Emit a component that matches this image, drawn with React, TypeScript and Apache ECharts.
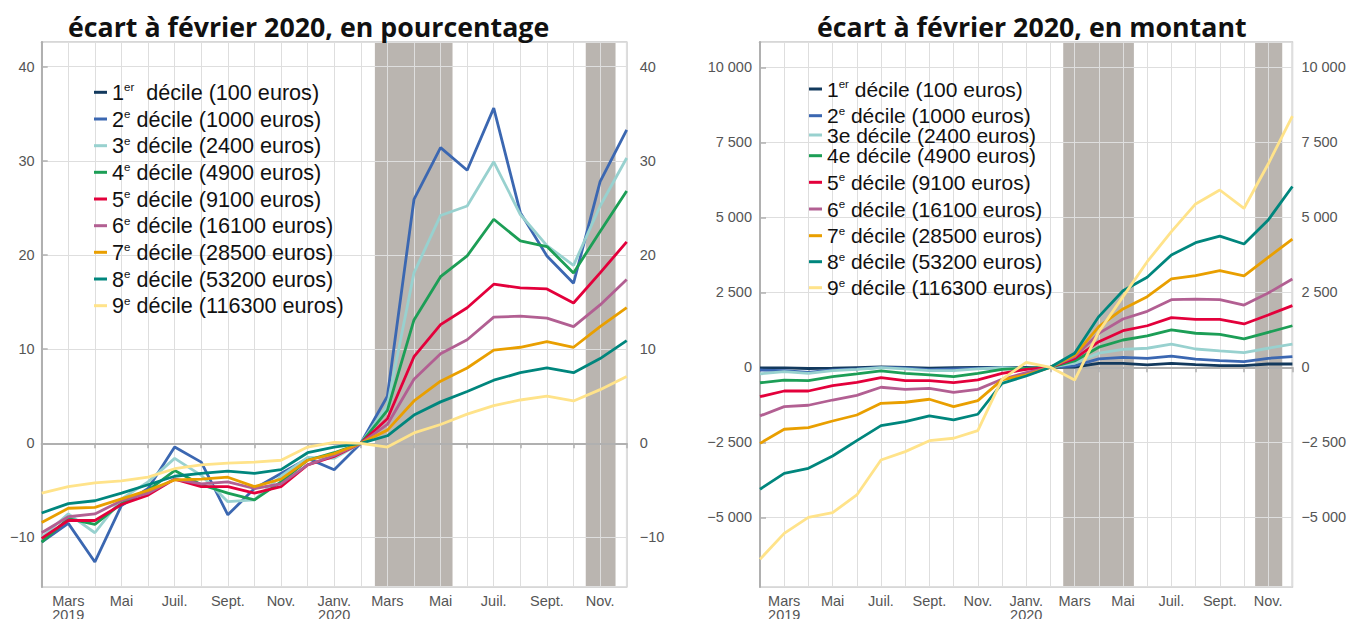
import React, { useEffect, useRef } from 'react';
import * as echarts from 'echarts';

// Month index 0 = février 2019 ... 22 = décembre 2020
const tickLabels = ['', 'Mars\n2019', '', 'Mai', '', 'Juil.', '', 'Sept.', '', 'Nov.', '', 'Janv.\n2020', '', 'Mars', '', 'Mai', '', 'Juil.', '', 'Sept.', '', 'Nov.', ''];

// Confinements (month-index positions)
const lockdowns: [number, number][] = [[12.53, 15.45], [20.46, 21.58]];

// Écart à février 2020, en pourcentage
const pct1: number[] = [];
const pct2 = [-10.5, -8.5, -12.6, -6.6, -4.8, -0.4, -2.0, -7.6, -4.8, -3.2, -1.6, -2.8, 0, 5.0, 25.9, 31.4, 29.0, 35.6, 24.5, 19.9, 17.0, 27.8, 33.3];
const pct3 = [-10.0, -7.5, -9.5, -5.9, -4.1, -1.6, -3.4, -6.2, -6.0, -3.5, -1.5, -1.6, 0, 4.0, 18.1, 24.2, 25.2, 29.9, 24.3, 21.0, 18.9, 25.2, 30.3];
const pct4 = [-10.5, -8.0, -8.6, -6.4, -5.0, -2.9, -4.4, -5.3, -6.0, -4.1, -1.8, -1.0, 0, 3.5, 13.1, 17.7, 19.9, 23.8, 21.5, 20.9, 18.1, 22.5, 26.8];
const pct5 = [-10.1, -8.2, -8.2, -6.5, -5.5, -3.8, -4.6, -4.6, -5.3, -4.6, -2.3, -1.4, 0, 2.6, 9.2, 12.6, 14.4, 16.9, 16.5, 16.4, 14.9, 18.1, 21.4];
const pct6 = [-9.5, -7.8, -7.5, -6.1, -5.3, -3.8, -4.3, -4.1, -4.8, -4.3, -2.3, -1.3, 0, 2.0, 6.8, 9.5, 11.0, 13.4, 13.5, 13.3, 12.4, 14.7, 17.4];
const pct7 = [-8.4, -6.9, -6.8, -5.9, -5.0, -3.9, -3.8, -3.6, -4.6, -3.8, -1.8, -1.1, 0, 1.4, 4.5, 6.6, 8.0, 9.9, 10.2, 10.8, 10.2, 12.4, 14.4];
const pct8 = [-7.4, -6.4, -6.1, -5.3, -4.4, -3.5, -3.2, -2.95, -3.2, -2.8, -1.0, -0.4, 0, 0.8, 3.0, 4.4, 5.5, 6.7, 7.5, 8.0, 7.5, 9.0, 10.9];
const pct9 = [-5.3, -4.6, -4.2, -4.0, -3.6, -2.7, -2.3, -2.1, -2.0, -1.8, -0.4, 0.1, 0, -0.4, 1.1, 2.0, 3.1, 4.0, 4.6, 5.0, 4.5, 5.7, 7.1];

// Écart à février 2020, en montant (euros)
const amt1 = [-20, -20, -40, -30, -10, 10, 0, -30, -10, 0, 0, 0, 0, 10, 130, 130, 80, 130, 90, 55, 55, 110, 110];
const amt2 = [-90, -110, -170, -85, -50, -5, -20, -80, -50, -30, -15, -30, 0, 50, 280, 330, 300, 375, 270, 220, 190, 300, 355];
const amt3 = [-220, -145, -200, -110, -70, -10, -55, -110, -110, -55, -10, -35, 0, 140, 470, 600, 635, 775, 610, 545, 490, 635, 775];
const amt4 = [-515, -430, -445, -310, -220, -120, -200, -255, -310, -200, -70, -35, 0, 210, 670, 910, 1045, 1245, 1135, 1100, 945, 1165, 1385];
const amt5 = [-980, -790, -790, -610, -500, -345, -445, -445, -510, -420, -200, -70, 0, 290, 855, 1220, 1385, 1655, 1600, 1600, 1445, 1745, 2055];
const amt6 = [-1620, -1310, -1265, -1090, -935, -665, -735, -700, -835, -735, -400, -175, 0, 350, 1130, 1610, 1865, 2255, 2275, 2255, 2075, 2475, 2945];
const amt7 = [-2535, -2065, -2010, -1790, -1590, -1200, -1165, -1065, -1310, -1110, -420, -250, 0, 400, 1355, 1945, 2355, 2945, 3055, 3220, 3045, 3665, 4275];
const amt8 = [-4065, -3535, -3365, -2955, -2445, -1945, -1810, -1620, -1755, -1565, -535, -290, 0, 470, 1690, 2550, 3000, 3745, 4155, 4375, 4110, 4910, 6025];
const amt9 = [-6400, -5535, -5000, -4845, -4255, -3090, -2810, -2445, -2365, -2110, -400, 165, 0, -425, 1185, 2355, 3520, 4520, 5445, 5910, 5300, 6775, 8375];

const pctSeries = [pct1, pct2, pct3, pct4, pct5, pct6, pct7, pct8, pct9];
const amtSeries = [amt1, amt2, amt3, amt4, amt5, amt6, amt7, amt8, amt9];

const colors = ['#12395d', '#3b67b1', '#98d1cf', '#1c9e56', '#e3003b', '#b25f92', '#e99f00', '#00867d', '#ffe38a'];

const legendLeft = [
  '1{sup|er}  décile (100 euros)',
  '2{sup|e} décile (1000 euros)',
  '3{sup|e} décile (2400 euros)',
  '4{sup|e} décile (4900 euros)',
  '5{sup|e} décile (9100 euros)',
  '6{sup|e} décile (16100 euros)',
  '7{sup|e} décile (28500 euros)',
  '8{sup|e} décile (53200 euros)',
  '9{sup|e} décile (116300 euros)',
];
const legendRight = [
  '1{sup|er} décile (100 euros)',
  '2{sup|e} décile (1000 euros)',
  '3e décile (2400 euros)',
  '4e décile (4900 euros)',
  '5{sup|e} décile (9100 euros)',
  '6{sup|e} décile (16100 euros)',
  '7{sup|e} décile (28500 euros)',
  '8{sup|e} décile (53200 euros)',
  '9{sup|e} décile (116300 euros)',
];

const titles = ['écart à février 2020, en pourcentage', 'écart à février 2020, en montant'];

const SANS = 'Liberation Sans, Arial, sans-serif';
const GRID_COLOR = '#dedede';
const AXIS_COLOR = '#b0b0b0';
const LABEL_COLOR = '#555';

const fmtPct = (v: number) => {
  if (Math.abs(v % 10) > 1e-6) return '';
  return v < 0 ? '\u2212' + Math.abs(v) : String(v);
};
const fmtAmt = (v: number) => {
  if (Math.abs(v % 2500) > 1e-6) return '';
  const s = String(Math.abs(v)).replace(/\B(?=(\d{3})+(?!\d))/g, ' ');
  return v < 0 ? '\u2212' + s : s;
};

export default function App() {
  const ref = useRef<HTMLDivElement>(null);
  useEffect(() => {
    if (!ref.current) return;
    const chart = echarts.init(ref.current, undefined, { renderer: 'svg' });

    const grids = [
      { left: 41.7, top: 42.3, width: 585, height: 544.4 },
      { left: 760, top: 42.3, width: 532.4, height: 544.4 },
    ];
    const yRanges = [
      { min: -15.23, max: 42.59, step: 10, fmt: fmtPct, lm: 7, rm: 13 },
      { min: -7313, max: 10833, step: 2500, fmt: fmtAmt, lm: 8, rm: 9 },
    ];

    const xAxis: any[] = [];
    const yAxis: any[] = [];
    grids.forEach((_, g) => {
      xAxis.push({
        type: 'value', gridIndex: g, min: 0, max: 22, interval: 1, position: 'bottom',
        axisLine: { show: true, lineStyle: { color: AXIS_COLOR, width: 2 } },
        axisTick: { show: false },
        splitLine: { show: true, lineStyle: { color: GRID_COLOR, width: 1 } },
        axisLabel: {
          show: true, fontSize: 14.5, fontFamily: SANS, color: LABEL_COLOR, lineHeight: 14.5, margin: 7,
          formatter: (v: number) => tickLabels[Math.round(v)] || '',
        },
      });
    });
    grids.forEach((_, g) => {
      xAxis.push({
        type: 'value', gridIndex: g, min: 0, max: 22, interval: 2, position: 'bottom',
        axisLine: { show: false },
        axisTick: { show: true, length: 5, lineStyle: { color: AXIS_COLOR, width: 1.5 } },
        splitLine: { show: false },
        axisLabel: { show: false },
      });
    });
    grids.forEach((_, g) => {
      const r = yRanges[g];
      yAxis.push({
        type: 'value', gridIndex: g, position: 'left', min: r.min, max: r.max,
        minInterval: r.step, maxInterval: r.step,
        axisLine: { show: true, lineStyle: { color: AXIS_COLOR, width: 2 } },
        axisTick: { show: false },
        splitLine: { show: true, lineStyle: { color: GRID_COLOR, width: 1 } },
        axisLabel: { fontSize: 14.5, fontFamily: SANS, color: LABEL_COLOR, margin: r.lm, formatter: r.fmt, showMinLabel: false, showMaxLabel: false },
      });
      yAxis.push({
        type: 'value', gridIndex: g, position: 'right', min: r.min, max: r.max,
        minInterval: r.step, maxInterval: r.step,
        axisLine: { show: true, lineStyle: { color: AXIS_COLOR, width: 2 } },
        axisTick: { show: true, length: 6, lineStyle: { color: AXIS_COLOR, width: 1.5 } },
        splitLine: { show: false },
        axisLabel: { fontSize: 14.5, fontFamily: SANS, color: LABEL_COLOR, margin: r.rm, formatter: r.fmt, showMinLabel: false, showMaxLabel: false },
      });
    });

    const series: any[] = [];
    [0, 1].forEach((g) => {
      series.push({
        type: 'line', xAxisIndex: g, yAxisIndex: g * 2, data: [[0, 0]], symbol: 'none', silent: true,
        lineStyle: { opacity: 0 },
        markArea: {
          silent: true, z: -1,
          itemStyle: { color: '#bab5b0' },
          data: lockdowns.map(([a, b]) => [{ xAxis: a }, { xAxis: b }]),
        },
      });
    });
    pctSeries.forEach((arr, i) => {
      series.push({
        name: 'L' + (i + 1), type: 'line', xAxisIndex: 0, yAxisIndex: 0,
        data: arr.map((v, k) => [k, v]), symbol: 'none', color: colors[i],
        lineStyle: { width: 2.8, color: colors[i] },
      });
    });
    amtSeries.forEach((arr, i) => {
      series.push({
        name: 'R' + (i + 1), type: 'line', xAxisIndex: 1, yAxisIndex: 2,
        data: arr.map((v, k) => [k, v]), symbol: 'none', color: colors[i],
        lineStyle: { width: 2.8, color: colors[i] },
      });
    });

    const leftCenters = [92.3, 119, 145.7, 172.3, 199, 225.7, 252.3, 279, 305.7];
    const rightCenters = [89, 115.7, 135, 155.7, 182.3, 209, 235.7, 261.7, 287.7];
    const mkLegendStyle = (fs: number) => ({
      fontSize: fs, fontFamily: SANS, color: '#111', lineHeight: 22,
      rich: { sup: { fontSize: 11.5, fontFamily: SANS, color: '#111', lineHeight: 13, verticalAlign: 'top' } },
    });
    const legend: any[] = [];
    legendLeft.forEach((lab, i) => {
      legend.push({
        data: ['L' + (i + 1)], left: 94, top: leftCenters[i] - 11, padding: 0,
        icon: 'rect', itemWidth: 13, itemHeight: 3, selectedMode: false,
        textStyle: mkLegendStyle(21.6), formatter: () => lab,
      });
    });
    legendRight.forEach((lab, i) => {
      legend.push({
        data: ['R' + (i + 1)], left: 809, top: rightCenters[i] - 11, padding: 0,
        icon: 'rect', itemWidth: 13, itemHeight: 3, selectedMode: false,
        textStyle: mkLegendStyle(21), formatter: () => lab,
      });
    });

    const titleStyle = { fontFamily: 'Open Sans', fontWeight: 'bold', fontSize: 26.75, color: '#111' };
    chart.setOption({
      animation: false,
      backgroundColor: '#fff',
      textStyle: { fontFamily: SANS },
      title: [
        { text: titles[0], left: 68, top: 13, padding: 0, textStyle: titleStyle },
        { text: titles[1], left: 817, top: 13, padding: 0, textStyle: titleStyle },
      ],
      grid: grids.map((g) => ({ ...g, show: true, borderColor: AXIS_COLOR, borderWidth: 1.5, backgroundColor: 'transparent', containLabel: false, outerBoundsMode: 'none' })),
      legend,
      xAxis,
      yAxis,
      series,
    });
    return () => chart.dispose();
  }, []);
  return <div ref={ref} style={{ position: 'absolute', left: 0, top: 0, width: 1350, height: 619 }} />;
}
